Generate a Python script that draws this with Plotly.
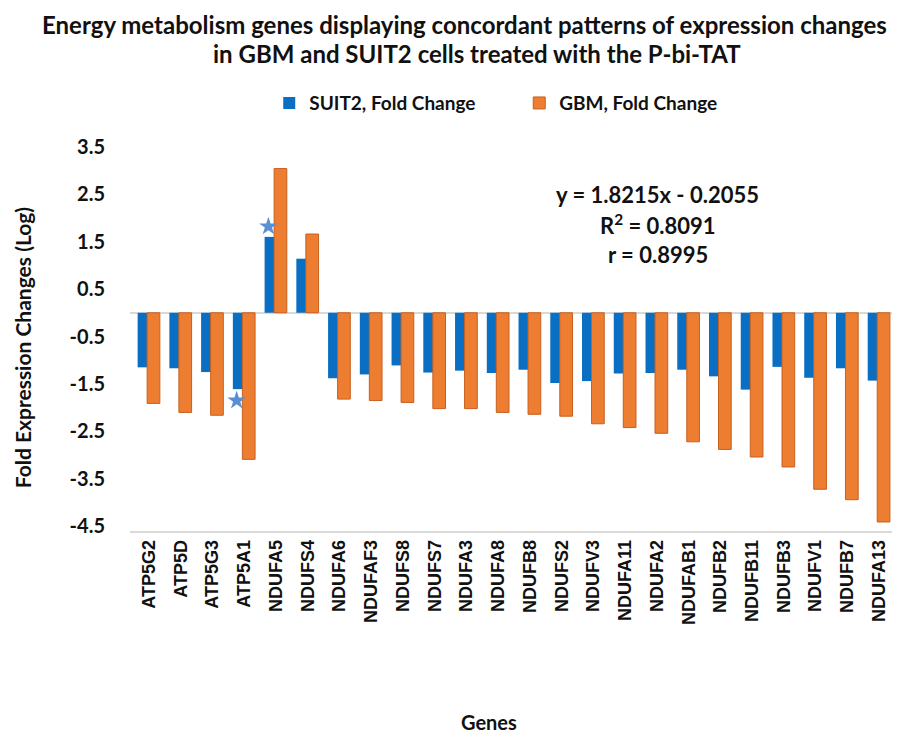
import plotly.graph_objects as go

genes = ["ATP5G2", "ATP5D", "ATP5G3", "ATP5A1", "NDUFA5", "NDUFS4", "NDUFA6", "NDUFAF3",
         "NDUFS8", "NDUFS7", "NDUFA3", "NDUFA8", "NDUFB8", "NDUFS2", "NDUFV3", "NDUFA11",
         "NDUFA2", "NDUFAB1", "NDUFB2", "NDUFB11", "NDUFB3", "NDUFV1", "NDUFB7", "NDUFA13"]
suit2 = [-1.15, -1.17, -1.25, -1.61, 1.60, 1.14, -1.38, -1.30, -1.11, -1.26, -1.22, -1.27,
         -1.20, -1.48, -1.44, -1.28, -1.27, -1.20, -1.34, -1.62, -1.14, -1.37, -1.17, -1.43]
gbm = [-1.91, -2.10, -2.16, -3.09, 3.04, 1.66, -1.82, -1.85, -1.89, -2.02, -2.02, -2.10,
       -2.14, -2.18, -2.34, -2.42, -2.54, -2.72, -2.88, -3.04, -3.25, -3.72, -3.94, -4.41]
starred = ["ATP5A1", "NDUFA5"]
ytick_vals = [3.5, 2.5, 1.5, 0.5, -0.5, -1.5, -2.5, -3.5, -4.5]
fit_lines = ["y = 1.8215x - 0.2055", "R<sup>2</sup> = 0.8091", "r = 0.8995"]
title_lines = ["Energy metabolism genes displaying concordant patterns of expression changes",
               "in GBM and SUIT2 cells treated with the P-bi-TAT"]

BLUE = "#0A6FC2"
ORANGE = "#ED7D31"
TXT = "#111111"

idx = list(range(len(genes)))

fig = go.Figure()
fig.add_trace(go.Bar(
    x=idx, y=suit2, name="SUIT2, Fold Change",
    marker=dict(color=BLUE, line=dict(width=0)),
    offset=-0.36, width=0.32,
))
fig.add_trace(go.Bar(
    x=idx, y=gbm, name="GBM, Fold Change",
    marker=dict(color=ORANGE, line=dict(color="#C8601E", width=1)),
    offset=-0.06, width=0.40,
))

star_x = [genes.index(g) - 0.24 for g in starred]
star_y = [suit2[genes.index(g)] + (0.22 if suit2[genes.index(g)] > 0 else -0.24) for g in starred]
fig.add_trace(go.Scatter(
    x=star_x, y=star_y, mode="markers", showlegend=False, hoverinfo="skip",
    marker=dict(symbol="star", size=14, color="#5A8FD3", line=dict(width=0)),
))

annotations = []
for i, t in enumerate(title_lines):
    annotations.append(dict(
        text=t, xref="paper", yref="paper", x=[0.437, 0.454][i], y=[1.303, 1.228][i],
        showarrow=False, xanchor="center", yanchor="middle",
        font=dict(family="Lato", size=24, color=TXT, weight="bold"),
    ))
for i, t in enumerate(fit_lines):
    annotations.append(dict(
        text=t, xref="paper", yref="paper", x=0.69, y=0.864 - i * 0.077,
        showarrow=False, xanchor="center", yanchor="middle",
        font=dict(family="Lato", size=22, color=TXT, weight="bold"),
    ))
annotations.append(dict(
    text="Fold Expression Changes (Log)", xref="paper", yref="paper",
    x=-0.141, y=0.47, textangle=-90, showarrow=False,
    xanchor="center", yanchor="middle",
    font=dict(family="Lato", size=21, color=TXT, weight="bold"),
))
annotations.append(dict(
    text="Genes", xref="paper", yref="paper",
    x=0.469, y=-0.491, showarrow=False, xanchor="center", yanchor="middle",
    font=dict(family="Lato", size=20, color=TXT, weight="bold"),
))

fig.update_layout(
    width=900, height=740,
    paper_bgcolor="white", plot_bgcolor="white",
    margin=dict(l=122, r=13, t=134, b=217),
    barmode="overlay",
    legend=dict(
        orientation="h", x=0.182, xanchor="left", y=1.1, yanchor="middle",
        font=dict(family="Lato", size=19, color=TXT, weight="bold"),
        entrywidth=205, entrywidthmode="pixels",
    ),
    annotations=annotations,
    showlegend=True,
)
fig.update_xaxes(
    range=[-0.6, 23.5],
    tickmode="array", tickvals=idx, ticktext=genes,
    tickangle=-90, showgrid=False, zeroline=False,
    showline=True, linecolor="#D9D9D9", linewidth=1.5,
    ticks="", tickfont=dict(family="Liberation Sans", size=18, color=TXT, weight="bold"),
)
fig.update_yaxes(
    range=[-4.6, 3.6],
    tickmode="array", tickvals=ytick_vals, ticktext=[f"{v:.1f}" for v in ytick_vals],
    showgrid=False, zeroline=True, zerolinecolor="#D9D9D9", zerolinewidth=2,
    showline=False, ticks="", ticklabelstandoff=24,
    tickfont=dict(family="Lato", size=20, color=TXT, weight="bold"),
)

fig.write_html("out.html")
